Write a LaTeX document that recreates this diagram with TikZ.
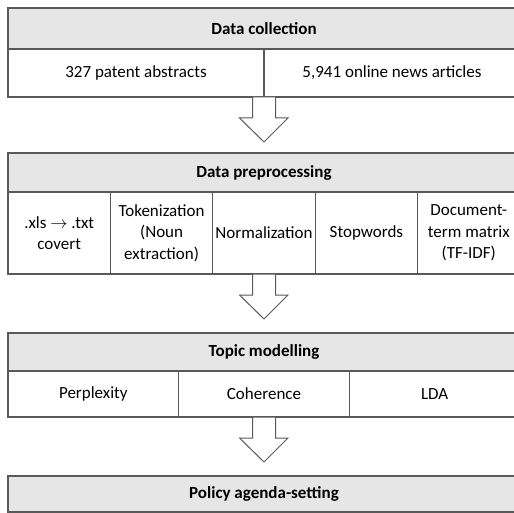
\documentclass[tikz,border=0pt]{standalone}
\usepackage{fontspec}
\setmainfont{Carlito}
\usetikzlibrary{calc}
\definecolor{linegray}{RGB}{89,89,89}
\definecolor{headfill}{RGB}{231,230,230}
\newcommand{\flowarrow}[1]{%
  \draw[arrowshape] ($(#1)+(-11.5,0)$) -- ++(0,21) -- ++(-13,0) -- ($(#1)+(0,45)$) -- ($(#1)+(24,21)$) -- ++(-12.5,0) -- ++(0,-21) -- cycle;}
\begin{document}
\begin{tikzpicture}[x=1pt,y=-1pt,
  every node/.style={inner sep=0pt, outer sep=0pt, font=\fontsize{17}{21.5}\selectfont},
  boxbase/.style={draw=linegray, line width=1.3pt, rectangle, align=center},
  headbox/.style={boxbase, fill=headfill, minimum width=512pt, font=\fontsize{17}{21.5}\selectfont\bfseries},
  cellbox/.style={boxbase, fill=white},
  arrowshape/.style={draw=linegray, line width=1pt, fill=white, line join=miter}]
\useasboundingbox (0,0) rectangle (514,513);
% Data collection
\node[headbox, minimum height=41pt] (h1) at (264,28.5) {Data collection};
\node[cellbox, minimum width=256pt, minimum height=48pt] (c11) at (136,73) {327 patent abstracts};
\node[cellbox, minimum width=256pt, minimum height=48pt] (c12) at (392,73) {5,941 online news articles};
% Data preprocessing
\node[headbox, minimum height=39pt] (h2) at (264,172.5) {Data preprocessing};
\node[cellbox, minimum width=102.4pt, minimum height=82pt] (c21) at (59.2,233) {.xls $\rightarrow$ .txt\\covert};
\node[cellbox, minimum width=102.4pt, minimum height=82pt] (c22) at (161.6,233) {Tokenization\\(Noun\\extraction)};
\node[cellbox, minimum width=102.4pt, minimum height=82pt] (c23) at (264,233) {Normalization};
\node[cellbox, minimum width=102.4pt, minimum height=82pt] (c24) at (366.4,233) {Stopwords};
\node[cellbox, minimum width=102.4pt, minimum height=82pt] (c25) at (468.8,233) {Document-\\term matrix\\(TF-IDF)};
% Topic modelling
\node[headbox, minimum height=38pt] (h3) at (264,352) {Topic modelling};
\node[cellbox, minimum width=170.67pt, minimum height=46pt] (c31) at (93.33,394) {Perplexity};
\node[cellbox, minimum width=170.67pt, minimum height=46pt] (c32) at (264,394) {Coherence};
\node[cellbox, minimum width=170.67pt, minimum height=46pt] (c33) at (434.67,394) {LDA};
% Policy agenda-setting
\node[headbox, minimum height=36pt] (h4) at (264,494) {Policy agenda-setting};
% arrows
\coordinate (a1) at (c11.south east);
\coordinate (a2) at (c23.south);
\coordinate (a3) at (c32.south);
\flowarrow{a1}
\flowarrow{a2}
\flowarrow{a3}
\end{tikzpicture}
\end{document}
